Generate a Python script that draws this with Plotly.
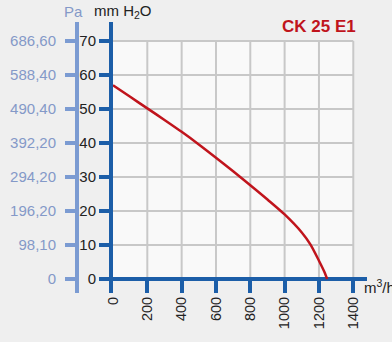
import plotly.graph_objects as go

# fan curve
airflow = [0, 100, 200, 300, 400, 500, 600, 700, 800, 900, 1000, 1100, 1150, 1200, 1230, 1248]
pressure_mm = [57, 53.6, 50.2, 46.8, 43.3, 39.6, 35.7, 31.7, 27.6, 23.4, 19.0, 13.7, 10.2, 5.4, 2.3, 0]

x_ticks = [0, 200, 400, 600, 800, 1000, 1200, 1400]
mm_ticks = [0, 10, 20, 30, 40, 50, 60, 70]
pa_ticks = [0, 98.10, 196.20, 294.20, 392.20, 490.40, 588.40, 686.60]
pa_labels = ["0", "98,10", "196,20", "294,20", "392,20", "490,40", "588,40", "686,60"]

BLUE = "#1c5ea8"
PA_BLUE = "#7b9bd2"
PA_TEXT = "#8499c8"
RED = "#c0141c"
GRID = "#c8c8c8"

y_range = [-4.1, 75.6]
x_range = [0, 1480]

W, H = 392, 342
ML, MR, MT, MB = 60, 25, 22, 49
plot_w = W - ML - MR
plot_h = H - MT - MB


def px_x(p):
    return (p - ML) / plot_w


def px_y(p):
    return (H - MB - p) / plot_h


fig = go.Figure()

# grid box background + gridlines
fig.add_shape(type="rect", xref="x", yref="y", x0=0, x1=x_ticks[-1], y0=0, y1=mm_ticks[-1],
              fillcolor="#f9f9f9", line=dict(width=0), layer="below")
for xv in x_ticks[1:]:
    fig.add_shape(type="line", xref="x", yref="y", x0=xv, x1=xv, y0=0, y1=mm_ticks[-1],
                  line=dict(color=GRID, width=2), layer="below")
for yv in mm_ticks[1:]:
    fig.add_shape(type="line", xref="x", yref="y", x0=0, x1=x_ticks[-1], y0=yv, y1=yv,
                  line=dict(color=GRID, width=2), layer="below")

fig.add_trace(go.Scatter(
    x=airflow, y=pressure_mm, mode="lines",
    line=dict(color=RED, width=2.5, shape="spline", smoothing=0.8),
    showlegend=False, hoverinfo="skip",
))

# invisible trace to carry the Pa axis
fig.add_trace(go.Scatter(x=[0], y=[0], yaxis="y2", mode="markers",
                         marker=dict(opacity=0), showlegend=False, hoverinfo="skip"))

fig.update_layout(
    width=W, height=H,
    margin=dict(l=ML, r=MR, t=MT, b=MB),
    paper_bgcolor="#efefef",
    plot_bgcolor="rgba(0,0,0,0)",
    font=dict(family="Liberation Sans, Arial", size=15, color="#222222"),
    xaxis=dict(
        domain=[px_x(113), 1], range=x_range, automargin=False,
        tickvals=x_ticks, tickangle=-90,
        ticks="inside", ticklen=14, tickwidth=4, tickcolor=BLUE,
        showgrid=False, zeroline=False, showline=False,
        tickfont=dict(size=14.5, color="#222222"),
    ),
    yaxis=dict(
        range=y_range, tickvals=mm_ticks, automargin=False,
        ticks="outside", ticklen=10, tickwidth=4, tickcolor=BLUE,
        showgrid=False, zeroline=True, zerolinecolor=BLUE, zerolinewidth=4,
        showline=True, linecolor=BLUE, linewidth=4,
        tickfont=dict(size=15, color="#222222"),
    ),
    yaxis2=dict(
        overlaying="y", anchor="free", position=px_x(77), side="left", automargin=False,
        range=[v * 9.81 for v in y_range],
        tickvals=pa_ticks, ticktext=pa_labels,
        ticks="outside", ticklen=10, tickwidth=4, tickcolor=PA_BLUE,
        ticklabelstandoff=6,
        showline=True, linecolor=PA_BLUE, linewidth=4,
        showgrid=False, zeroline=False,
        tickfont=dict(size=15, color=PA_TEXT),
    ),
    annotations=[
        dict(text="<b>CK 25 E1</b>", xref="paper", yref="paper", x=px_x(358),
             y=px_y(26), xanchor="right", yanchor="middle", showarrow=False,
             font=dict(size=17, color=RED)),
        dict(text="Pa", xref="paper", yref="paper", x=px_x(62), y=px_y(11),
             xanchor="left", yanchor="middle", showarrow=False,
             font=dict(size=15, color=PA_TEXT)),
        dict(text="mm H<sub>2</sub>O", xref="paper", yref="paper", x=px_x(92),
             y=px_y(11), xanchor="left", yanchor="middle", showarrow=False,
             font=dict(size=15, color="#222222")),
        dict(text="m<sup>3</sup>/h", xref="paper", yref="paper", x=px_x(362),
             y=px_y(286), xanchor="left", yanchor="middle", showarrow=False,
             font=dict(size=15, color="#222222")),
    ],
)

# drop the browser's default 8px body margin so the figure sits at the page corner
fig.write_html("out.html", config={"displayModeBar": False},
               post_script="document.body.style.margin='0';")
